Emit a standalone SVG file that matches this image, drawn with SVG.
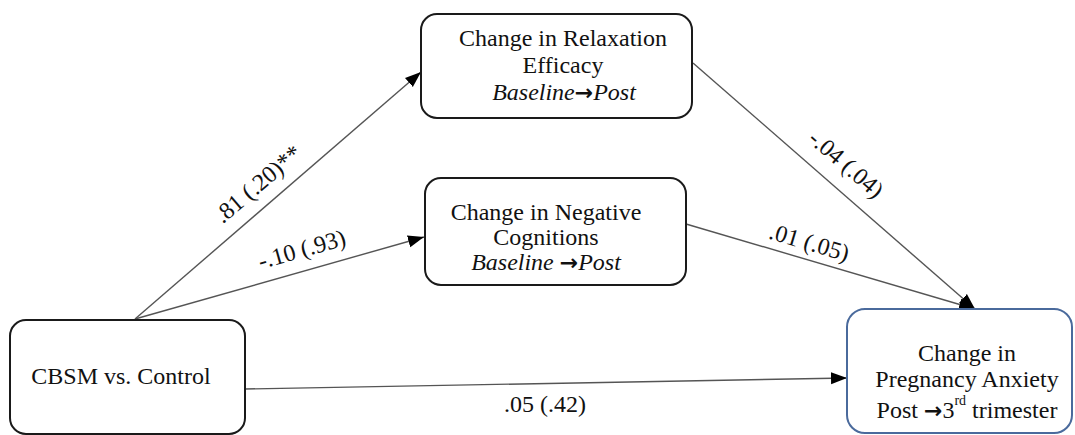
<svg xmlns="http://www.w3.org/2000/svg" width="1075" height="435" viewBox="0 0 1075 435">
<defs>
<style>
.box{fill:#fff;stroke:#1a1a1a;stroke-width:2}
.boxb{fill:#fff;stroke:#4a6a9c;stroke-width:2}
.t{font-family:"Liberation Serif","Times New Roman",serif;font-size:24px;fill:#111;text-anchor:middle}
.i{font-style:italic}
.ar{font-family:"DejaVu Sans",sans-serif;font-weight:bold;font-style:normal;font-size:22px}
.edge{stroke:#555;stroke-width:1.4;fill:none;marker-end:url(#ah)}
.lbl{font-family:"Liberation Serif","Times New Roman",serif;font-size:24px;fill:#111;text-anchor:middle}
</style>
<marker id="ah" markerUnits="userSpaceOnUse" markerWidth="18" markerHeight="14" refX="16" refY="6" orient="auto">
<path d="M0,0 L16,6 L0,12 Z" fill="#000"/>
</marker>
</defs>
<rect width="1075" height="435" fill="#fff"/>
<g id="connectors">
<line class="edge" x1="135" y1="319" x2="421" y2="72"/>
<line class="edge" x1="135" y1="319" x2="424" y2="237"/>
<line class="edge" x1="693" y1="63" x2="975" y2="309"/>
<line class="edge" x1="686" y1="224" x2="975" y2="309"/>
<line class="edge" x1="245" y1="389" x2="847" y2="378"/>
<text class="lbl" transform="translate(263,190) rotate(-40.4)">.81 (.20)**</text>
<text class="lbl" transform="translate(304,257) rotate(-15.7)">-.10 (.93)</text>
<text class="lbl" transform="translate(841,170) rotate(40.7)">-.04 (.04)</text>
<text class="lbl" transform="translate(807,250) rotate(16.5)">.01 (.05)</text>
<text class="lbl" x="545" y="412">.05 (.42)</text>
</g>
<g id="relaxation">
<rect class="box" x="421" y="14" width="271" height="104" rx="16"/>
<text class="t" x="563" y="46">Change in Relaxation</text>
<text class="t" x="563" y="73">Efficacy</text>
<text class="t" x="564" y="100"><tspan class="i">Baseline</tspan><tspan class="ar">→</tspan><tspan class="i">Post</tspan></text>
</g>
<g id="negative">
<rect class="box" x="425" y="178" width="261" height="107" rx="16"/>
<text class="t" x="546" y="220">Change in Negative</text>
<text class="t" x="546" y="245">Cognitions</text>
<text class="t" x="546" y="270"><tspan class="i">Baseline </tspan><tspan class="ar">→</tspan><tspan class="i">Post</tspan></text>
</g>
<g id="cbsm">
<rect class="box" x="10" y="320" width="235" height="114" rx="16"/>
<text class="t" x="121" y="384">CBSM vs. Control</text>
</g>
<g id="anxiety">
<rect class="boxb" x="847" y="309" width="225" height="124" rx="18"/>
<text class="t" x="967" y="361">Change in</text>
<text class="t" x="967" y="387">Pregnancy Anxiety</text>
<text class="t" x="967" y="418">Post <tspan class="ar">→</tspan>3<tspan font-size="14" dy="-13">rd</tspan><tspan dy="13"> trimester</tspan></text>
</g>
</svg>
